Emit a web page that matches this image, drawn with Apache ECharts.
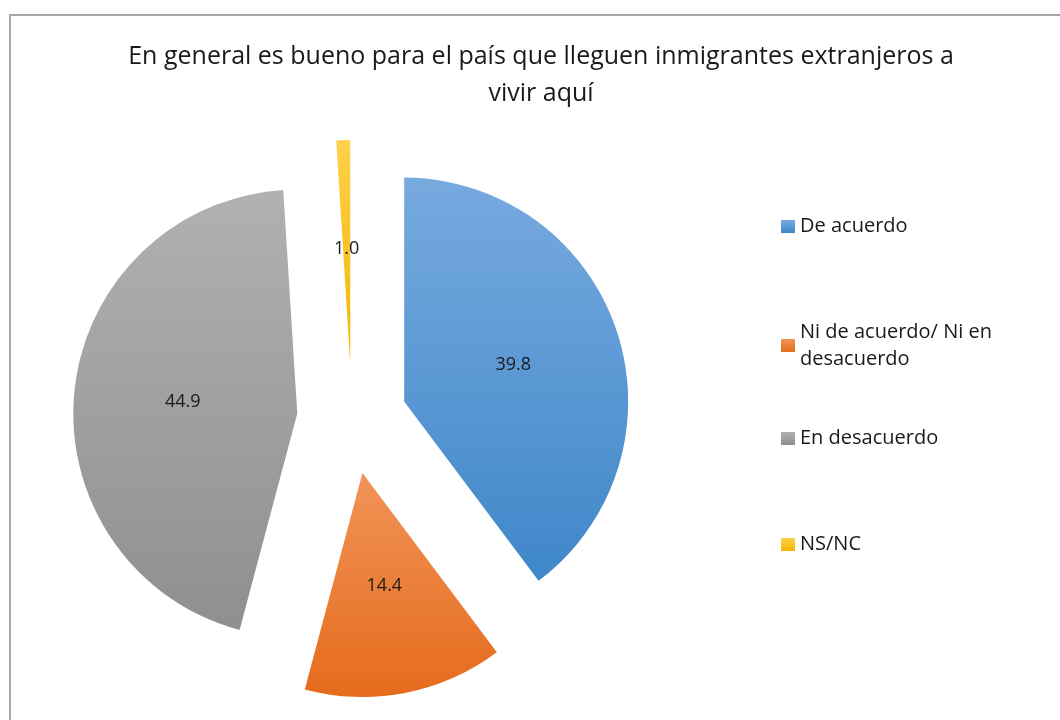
<!DOCTYPE html>
<html>
<head>
<meta charset="utf-8">
<script src="https://cdn.jsdelivr.net/npm/echarts@6/dist/echarts.min.js"></script>
<style>
  html, body { margin: 0; padding: 0; background: #fff; }
  #chart { width: 1060px; height: 720px; }
</style>
</head>
<body>
<div id="chart"></div>
<script>
// datos
const categorias = ['De acuerdo', 'Ni de acuerdo/ Ni en desacuerdo', 'En desacuerdo', 'NS/NC']
const valores = [39.8, 14.4, 44.9, 1.0]
const leyendaTextos = ['De acuerdo', 'Ni de acuerdo/ Ni en\ndesacuerdo', 'En desacuerdo', 'NS/NC']

// colores degradados (arriba -> abajo)
const colores = [
  ['#77aadf', '#3f87c9'],
  ['#f29458', '#e56b1c'],
  ['#b1b1b1', '#8f8f8f'],
  ['#ffd04a', '#f2b700']
]

const myChart = echarts.init(document.getElementById('chart'))
const font = '"Open Sans", Lato, sans-serif'

const grad = (c) => new echarts.graphic.LinearGradient(0, 0, 0, 1, [
  { offset: 0, color: c[0] },
  { offset: 1, color: c[1] }
])

// posiciones de la leyenda
const legendTops = [208, 300, 420, 526]

const legends = categorias.map((name, i) => ({
  orient: 'vertical',
  left: 776,
  top: legendTops[i],
  itemWidth: 14,
  itemHeight: 13,
  itemGap: 5,
  icon: 'rect',
  selectedMode: false,
  formatter: () => leyendaTextos[i],
  textStyle: {
    fontFamily: font,
    fontSize: 20,
    color: '#1a1a1a',
    lineHeight: 27,
    padding: i === 1 ? [27, 0, 0, 0] : 0
  },
  data: [name]
}))

const option = {
  backgroundColor: '#fff',
  title: {
    text: 'En general es bueno para el país que lleguen inmigrantes extranjeros a\nvivir aquí',
    left: 541,
    top: 33,
    textAlign: 'center',
    padding: [5, 0, 5, 0],
    textStyle: {
      fontFamily: font,
      fontSize: 25,
      fontWeight: 'normal',
      color: '#1a1a1a',
      lineHeight: 37
    }
  },
  legend: legends,
  graphic: [
    {
      type: 'rect',
      shape: { x: 10, y: 15, width: 1100, height: 800 },
      style: { fill: 'none', stroke: '#a6a6a6', lineWidth: 2 },
      silent: true
    }
  ],
  series: [
    {
      type: 'pie',
      center: [352, 419],
      radius: 224,
      startAngle: 90,
      clockwise: true,
      selectedMode: 'multiple',
      selectedOffset: 55,
      avoidLabelOverlap: false,
      animation: false,
      label: {
        show: true,
        position: 'inside',
        formatter: (p) => p.value.toFixed(1),
        fontFamily: font,
        fontSize: 18,
        color: '#1a1a1a'
      },
      labelLine: { show: false },
      emphasis: { disabled: true },
      data: categorias.map((name, i) => ({
        name: name,
        value: valores[i],
        selected: true,
        itemStyle: { color: grad(colores[i]) }
      }))
    }
  ]
}

myChart.setOption(option)
</script>
</body>
</html>
